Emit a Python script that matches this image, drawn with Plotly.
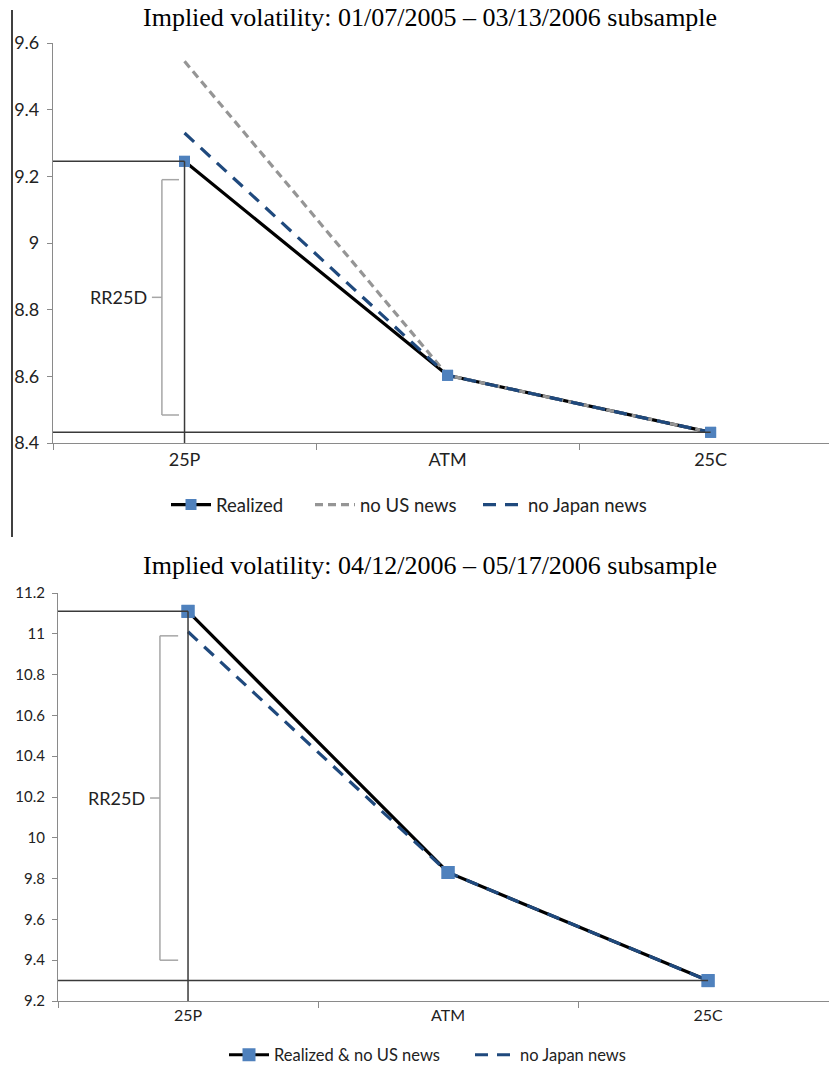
import plotly.graph_objects as go

# ---- data ----
categories = ["25P", "ATM", "25C"]

# top panel: 01/07/2005 - 03/13/2006
top_realized = [9.245, 8.603, 8.432]
top_no_us = [9.545, 8.603, 8.432]
top_no_japan = [9.330, 8.603, 8.432]
top_bracket = [9.19, 8.484]          # RR25D bracket top / bottom
top_yticks = [8.4, 8.6, 8.8, 9.0, 9.2, 9.4, 9.6]

# bottom panel: 04/12/2006 - 05/17/2006
bot_realized = [11.11, 9.83, 9.30]
bot_no_japan = [11.01, 9.83, 9.30]
bot_bracket = [10.99, 9.40]
bot_yticks = [9.2, 9.4, 9.6, 9.8, 10.0, 10.2, 10.4, 10.6, 10.8, 11.0, 11.2]

title_top = "Implied volatility: 01/07/2005 \u2013 03/13/2006 subsample"
title_bot = "Implied volatility: 04/12/2006 \u2013 05/17/2006 subsample"

# ---- style ----
W, H = 829, 1067
BLUE = "#4F81BD"
DKBLUE = "#1F497D"
GRAY = "#959595"
AXIS = "#8A8A8A"
REF = "#3A3A3A"
BRK = "#A6A6A6"
FONT = "Lato"

fig = go.Figure()

# top traces
fig.add_trace(go.Scatter(x=categories, y=top_realized, mode="lines+markers", name="Realized",
                         line=dict(color="black", width=3.2),
                         marker=dict(symbol="square", size=11, color=BLUE),
                         xaxis="x", yaxis="y", legend="legend"))
fig.add_trace(go.Scatter(x=categories, y=top_no_us, mode="lines", name="no US news",
                         line=dict(color=GRAY, width=3.2, dash="8px,5px"),
                         xaxis="x", yaxis="y", legend="legend2"))
fig.add_trace(go.Scatter(x=categories, y=top_no_japan, mode="lines", name="no Japan news",
                         line=dict(color=DKBLUE, width=3.2, dash="13px,9px"),
                         xaxis="x", yaxis="y", legend="legend3"))
fig.add_trace(go.Scatter(x=categories, y=top_realized, mode="markers", showlegend=False,
                         marker=dict(symbol="square", size=11, color=BLUE),
                         xaxis="x", yaxis="y", hoverinfo="skip"))

# bottom traces
fig.add_trace(go.Scatter(x=categories, y=bot_realized, mode="lines+markers", name="Realized & no US news",
                         line=dict(color="black", width=3.2),
                         marker=dict(symbol="square", size=13, color=BLUE),
                         xaxis="x2", yaxis="y2", legend="legend4"))
fig.add_trace(go.Scatter(x=categories, y=bot_no_japan, mode="lines", name="no Japan news",
                         line=dict(color=DKBLUE, width=3.2, dash="13px,9px"),
                         xaxis="x2", yaxis="y2", legend="legend5"))
fig.add_trace(go.Scatter(x=categories, y=bot_realized, mode="markers", showlegend=False,
                         marker=dict(symbol="square", size=13, color=BLUE),
                         xaxis="x2", yaxis="y2", hoverinfo="skip"))

shapes = []
def ref_lines(xa, ya, realized, ymin):
    # horizontal from axis to 25P at 25P level
    shapes.append(dict(type="line", xref=xa, yref=ya, x0=-0.5, x1=0, y0=realized[0], y1=realized[0],
                       line=dict(color=REF, width=1.5)))
    # vertical from 25P point to x-axis
    shapes.append(dict(type="line", xref=xa, yref=ya, x0=0, x1=0, y0=ymin, y1=realized[0],
                       line=dict(color=REF, width=1.5)))
    # horizontal at 25C level
    shapes.append(dict(type="line", xref=xa, yref=ya, x0=-0.5, x1=2, y0=realized[2], y1=realized[2],
                       line=dict(color=REF, width=1.5)))

def bracket(xa, ya, b, xv, xr, xl):
    mid = (b[0] + b[1]) / 2
    for seg in [(xv, xv, b[0], b[1]), (xv, xr, b[0], b[0]), (xv, xr, b[1], b[1]), (xl, xv, mid, mid)]:
        shapes.append(dict(type="line", xref=xa, yref=ya, x0=seg[0], x1=seg[1], y0=seg[2], y1=seg[3],
                           line=dict(color=BRK, width=1.5)))
    return mid

ref_lines("x", "y", top_realized, top_yticks[0])
ref_lines("x2", "y2", bot_realized, bot_yticks[0])
mid_top = bracket("x", "y", top_bracket, -0.086, -0.021, -0.124)
mid_bot = bracket("x2", "y2", bot_bracket, -0.108, -0.038, -0.146)

# left border line of the top panel
shapes.append(dict(type="line", xref="paper", yref="paper", x0=12 / W, x1=12 / W,
                   y0=1 - 537 / H, y1=1 - 10 / H, line=dict(color="black", width=1.5)))

annotations = [
    dict(text="RR25D", xref="x", yref="y", x=-0.135, y=mid_top, xanchor="right", yanchor="middle",
         showarrow=False, font=dict(family=FONT, size=18, color="#222")),
    dict(text="RR25D", xref="x2", yref="y2", x=-0.157, y=mid_bot, xanchor="right", yanchor="middle",
         showarrow=False, font=dict(family=FONT, size=18, color="#222")),
    dict(text=title_top, xref="paper", yref="paper", x=430 / W, y=1 - 18 / H, xanchor="center",
         yanchor="middle", showarrow=False, font=dict(family="Liberation Serif", size=26, color="black")),
    dict(text=title_bot, xref="paper", yref="paper", x=430 / W, y=1 - 565 / H, xanchor="center",
         yanchor="middle", showarrow=False, font=dict(family="Liberation Serif", size=26, color="black")),
]

xax_common = dict(type="category", tickson="boundaries", ticks="outside", ticklen=6, tickcolor=AXIS,
                  showline=True, linecolor=AXIS, linewidth=1.2, showgrid=False, zeroline=False,
                  fixedrange=True)
yax_common = dict(ticks="outside", ticklen=5, tickcolor=AXIS, showline=True, linecolor=AXIS,
                  linewidth=1.2, showgrid=False, zeroline=False, tickformat="~g",
                  ticklabelstandoff=4)

def leg(xpx, ypx, size):
    return dict(orientation="h", x=(xpx - 5) / W, xanchor="left", y=1 - ypx / H, yanchor="middle",
                font=dict(family=FONT, size=size, color="#222"), itemwidth=40,
                bgcolor="rgba(0,0,0,0)")

fig.update_layout(
    width=W, height=H,
    margin=dict(l=0, r=0, t=0, b=0, autoexpand=False),
    paper_bgcolor="white", plot_bgcolor="white",
    font=dict(family=FONT, color="#222"),
    shapes=shapes,
    annotations=annotations,
    xaxis=dict(**xax_common, domain=[53 / W, 1], range=[-0.5, 2.45], anchor="y",
               tickfont=dict(size=18)),
    yaxis=dict(**yax_common, domain=[1 - 443 / H, 1 - 43 / H], range=[8.4, 9.6], anchor="x",
               tickvals=top_yticks, tickfont=dict(size=18)),
    xaxis2=dict(**xax_common, domain=[58 / W, 1], range=[-0.5, 2.465], anchor="y2",
                tickfont=dict(size=16)),
    yaxis2=dict(**yax_common, domain=[1 - 1001 / H, 1 - 593 / H], range=[9.2, 11.2], anchor="x2",
                tickvals=bot_yticks, tickfont=dict(size=15)),
    legend=leg(171, 505, 18.5),
    legend2=leg(315, 505, 18.5),
    legend3=leg(483, 505, 18.5),
    legend4=leg(229, 1055, 16.5),
    legend5=leg(475, 1055, 16.5),
)

fig.write_html("out.html", config={"displayModeBar": False},
               post_script="document.body.style.margin='0';")
